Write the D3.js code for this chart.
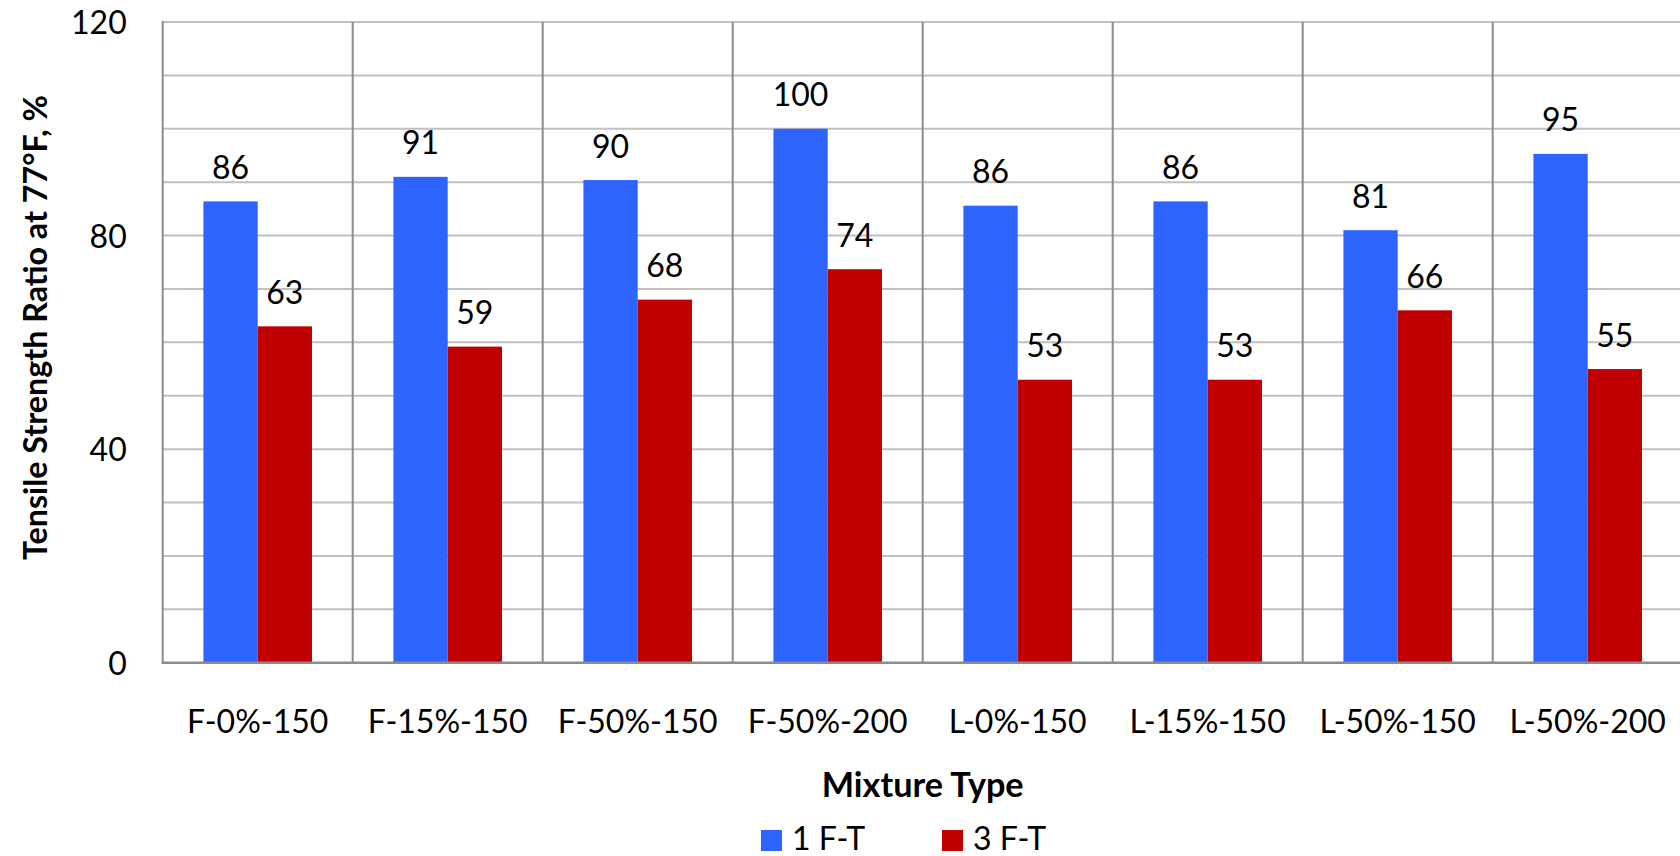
<!DOCTYPE html>
<html>
<head>
<meta charset="utf-8">
<script src="https://cdn.jsdelivr.net/npm/d3@7"></script>
<style>
  html, body { margin: 0; padding: 0; background: #fff; }
  svg { display: block; }
  text { font-family: Lato, "Open Sans", sans-serif; fill: #000; }
</style>
</head>
<body>
<svg id="chart" width="1680" height="856"></svg>
<script>
const categories = ["F-0%-150", "F-15%-150", "F-50%-150", "F-50%-200", "L-0%-150", "L-15%-150", "L-50%-150", "L-50%-200"];
const seriesNames = ["1 F-T", "3 F-T"];
const oneFT = [86.4, 91, 90.4, 100, 85.6, 86.4, 81, 95.3];
const threeFT = [63, 59.2, 68, 73.7, 53, 53, 66, 55];
const yTicks = [0, 40, 80, 120];
const colors = ["#2E64FE", "#C00000"];

const seriesValues = [oneFT, threeFT];
const data = categories.map((c, i) => ({
  cat: c,
  vals: seriesNames.map((s, j) => ({ series: s, value: seriesValues[j][i], color: colors[j] }))
}));

const svg = d3.select("#chart");
const mLeft = 162.7, mRight = 1682.7, mTop = 22, mBottom = 662.7;

const x = d3.scaleBand().domain(categories).range([mLeft, mRight]).padding(0);
const xs = d3.scaleBand().domain(seriesNames).range([0, x.bandwidth()]).paddingInner(0).paddingOuter(0.75);
const y = d3.scaleLinear().domain([0, 120]).range([mBottom, mTop]);

// fit a text element's font size to a target width
function fitWidth(sel, base, target) {
  sel.attr("font-size", base);
  const w = sel.node().getComputedTextLength();
  if (w > 0) sel.attr("font-size", base * target / w);
}

// horizontal gridlines
const g = svg.append("g");
g.selectAll("line.h").data(d3.range(10, 121, 10)).join("line")
  .attr("class", "h")
  .attr("x1", mLeft).attr("x2", mRight)
  .attr("y1", d => y(d)).attr("y2", d => y(d))
  .attr("stroke", "#c0c0c0").attr("stroke-width", 2);

// vertical category separators
g.selectAll("line.v").data(categories.slice(1)).join("line")
  .attr("class", "v")
  .attr("x1", d => x(d)).attr("x2", d => x(d))
  .attr("y1", mTop).attr("y2", mBottom)
  .attr("stroke", "#8c8c8c").attr("stroke-width", 2);

// bars
const groups = svg.append("g").selectAll("g").data(data).join("g")
  .attr("transform", d => `translate(${x(d.cat)},0)`);
groups.selectAll("rect").data(d => d.vals).join("rect")
  .attr("x", d => xs(d.series))
  .attr("width", xs.bandwidth())
  .attr("y", d => y(d.value))
  .attr("height", d => y(0) - y(d.value))
  .attr("fill", d => d.color);
groups.selectAll("text").data(d => d.vals).join("text")
  .attr("x", d => xs(d.series) + xs.bandwidth() / 2)
  .attr("y", d => y(d.value) - 22.5)
  .attr("text-anchor", "middle")
  .attr("font-size", 32)
  .text(d => d3.format(".0f")(d.value));

// axes frame
svg.append("line").attr("x1", mLeft).attr("x2", mLeft).attr("y1", mTop - 1).attr("y2", mBottom + 1)
  .attr("stroke", "#8c8c8c").attr("stroke-width", 2);
svg.append("line").attr("x1", mLeft - 1).attr("x2", mRight).attr("y1", mBottom).attr("y2", mBottom)
  .attr("stroke", "#8c8c8c").attr("stroke-width", 2.5);

// y axis tick labels
const yAxis = d3.axisLeft(y).tickValues(yTicks).tickSize(0).tickPadding(36).tickFormat(d3.format("d"));
const ya = svg.append("g").attr("transform", `translate(${mLeft},0)`).call(yAxis);
ya.select(".domain").remove();
ya.selectAll("text").attr("font-size", 32).attr("font-family", "Lato, sans-serif").attr("fill", "#000").attr("dy", "0.36em");

// x axis labels
const xAxis = d3.axisBottom(x).tickSize(0).tickPadding(0);
const xa = svg.append("g").attr("transform", `translate(0,${mBottom})`).call(xAxis);
xa.select(".domain").remove();
xa.selectAll("text").attr("font-size", 32).attr("font-family", "Lato, sans-serif").attr("fill", "#000")
  .attr("y", 70).attr("dy", 0);

// axis titles
const yTitle = svg.append("text")
  .attr("transform", `translate(47,327.5) rotate(-90)`)
  .attr("text-anchor", "middle").attr("font-weight", "bold")
  .text("Tensile Strength Ratio at 77°F, %");
fitWidth(yTitle, 32, 465);
const xTitle = svg.append("text")
  .attr("x", (mLeft + mRight) / 2).attr("y", 797)
  .attr("text-anchor", "middle").attr("font-weight", "bold")
  .text("Mixture Type");
fitWidth(xTitle, 32, 202);

// legend
const legendX = [761, 942];
const leg = svg.append("g").selectAll("g").data(seriesNames).join("g")
  .attr("transform", (d, i) => `translate(${legendX[i]},830)`);
leg.append("rect").attr("width", 21).attr("height", 21).attr("fill", (d, i) => colors[i]);
leg.append("text").attr("x", 31).attr("y", 20).attr("font-size", 32).text(d => d);
</script>
</body>
</html>
